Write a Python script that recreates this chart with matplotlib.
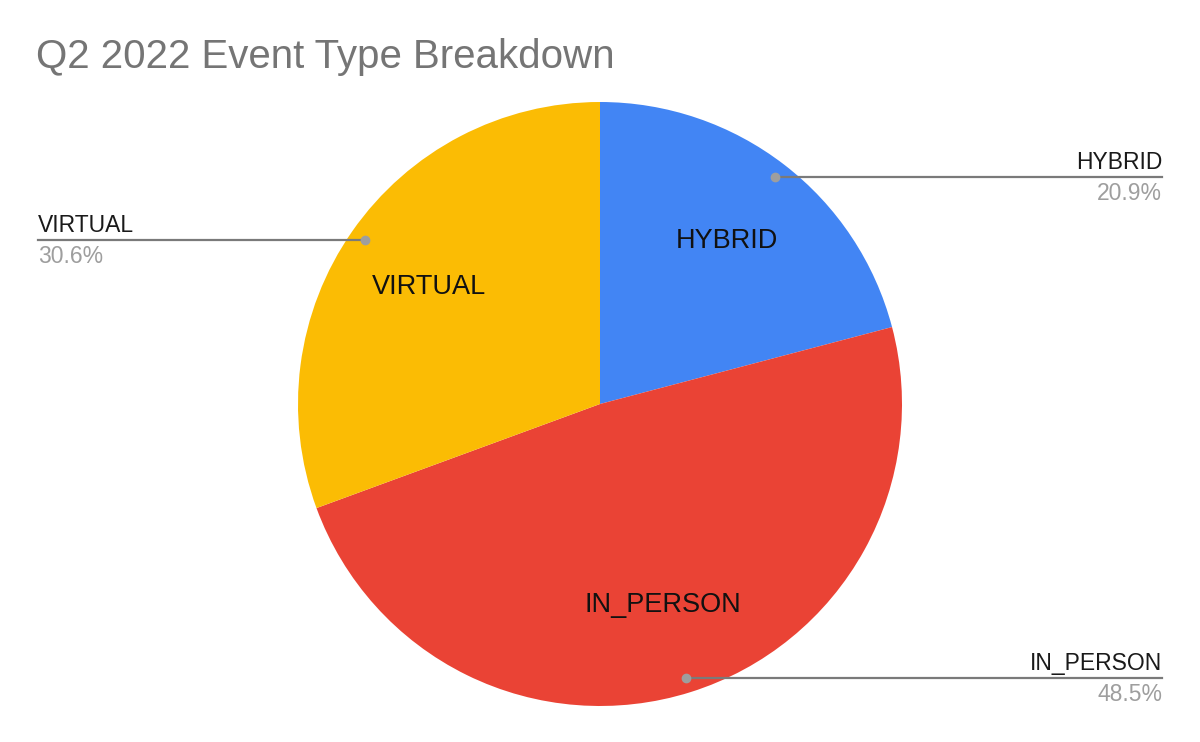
import matplotlib.pyplot as plt
import numpy as np

# slice data, clockwise from 12 o'clock
labels = ['HYBRID', 'IN_PERSON', 'VIRTUAL']
shares = [20.9, 48.5, 30.6]
colors = ['#4285F4', '#EA4335', '#FBBC04']
pct_text = ['20.9%', '48.5%', '30.6%']

plt.rcParams['font.family'] = ['Liberation Sans', 'DejaVu Sans']

W, H = 1200, 742
cx, cy, R = 600, 404, 302   # pie centre / radius in pixels

fig = plt.figure(figsize=(W / 100, H / 100), dpi=100)
ax = fig.add_axes([0, 0, 1, 1])

wedges, _ = ax.pie(shares, colors=colors, startangle=90, counterclock=False,
                   radius=1, wedgeprops=dict(linewidth=0))

# map the whole figure to data units (1 unit = pie radius)
ax.set_xlim(-cx / R, (W - cx) / R)
ax.set_ylim(-(H - cy) / R, cy / R)
ax.set_aspect('equal')
ax.axis('off')

line_x = (1162 - cx) / R
up = 8 / R
down = 23 / R

for w, lab, pct in zip(wedges, labels, pct_text):
    mid = np.deg2rad((w.theta1 + w.theta2) / 2)
    # inner label
    ax.text(0.69 * np.cos(mid), 0.69 * np.sin(mid) - 0.008, lab, ha='center', va='center',
            fontsize=19.5, color='#111111')
    # leader line with dot
    dx, dy = 0.95 * np.cos(mid), 0.95 * np.sin(mid)
    side = 1 if dx > 0 else -1
    ax.plot([dx, side * line_x], [dy, dy], color='#7a7a7a', lw=1.6, zorder=3)
    ax.plot(dx, dy, 'o', color='#9e9e9e', ms=6, zorder=4)
    ha = 'right' if side > 0 else 'left'
    ax.text(side * line_x, dy + up, lab, ha=ha, va='baseline', fontsize=16.5, color='#1a1a1a')
    ax.text(side * line_x, dy - down, pct, ha=ha, va='baseline', fontsize=16.5, color='#9e9e9e')

fig.text(36 / W, 1 - 68 / H, 'Q2 2022 Event Type Breakdown', ha='left', va='baseline',
         fontsize=29, color='#757575')

fig.savefig('out.png', dpi=100, facecolor='white')
